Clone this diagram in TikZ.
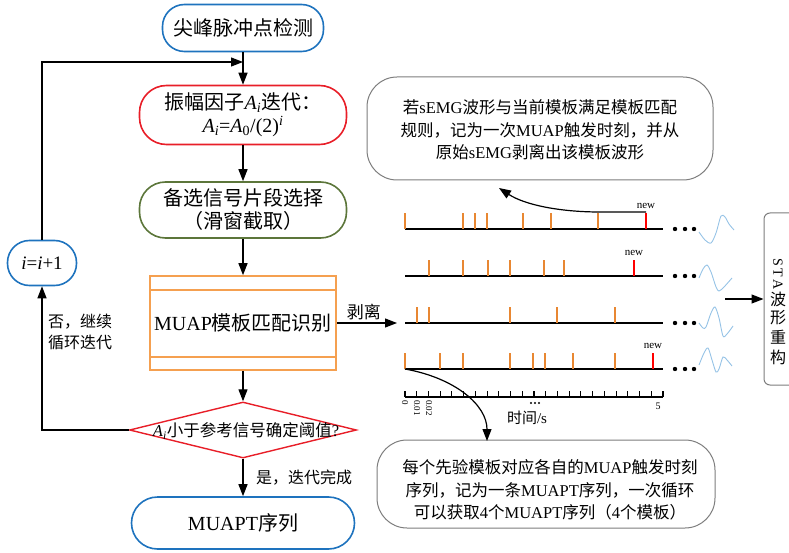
\documentclass[tikz,border=0pt]{standalone}
\usepackage{fontspec}
\setmainfont{Liberation Serif}
\newfontfamily\cjk{Noto Sans CJK SC}
\usetikzlibrary{arrows.meta,shapes.geometric}
\definecolor{cblue}{RGB}{30,115,190}
\definecolor{cred}{RGB}{232,30,40}
\definecolor{cgreen}{RGB}{92,118,58}
\definecolor{corange}{RGB}{245,160,80}
\definecolor{cspike}{RGB}{232,135,50}
\definecolor{cwave}{RGB}{150,195,230}
\definecolor{cgray}{RGB}{125,125,125}
\newcommand\zh[1]{{\cjk #1}}
\newcommand\Ai{\textit{A}\textsubscript{\textit{i}}}
\begin{document}
\begin{tikzpicture}[x=1pt,y=-1pt,
  arr/.style={line width=1.2pt,-{Triangle[length=12pt,width=9pt]}},
  flow/.style={draw, line width=1.6pt, rounded corners=#1, align=center, inner sep=2pt, font=\fontsize{20}{25}\selectfont},
  flow/.default=22pt,
  lbl/.style={font=\fontsize{16}{21}\selectfont, align=left, inner sep=1pt},
  callbox/.style={draw=cgray, line width=1pt, rounded corners=30pt},
  calltext/.style={align=center, font=\fontsize{16.5}{22.5}\selectfont},
  tl/.style={line width=1.8pt},
  spk/.style={cspike, line width=1.4pt},
  rspk/.style={red, line width=1.4pt},
  newlab/.style={font=\fontsize{11}{12}\selectfont, inner sep=0pt},
  ticklab/.style={rotate=-90, anchor=west, font=\fontsize{9}{10}\selectfont, inner sep=0.5pt},
  wave/.style={cwave, line width=0.9pt}
]
\useasboundingbox (0,0) rectangle (789,553);
\clip (0,0) rectangle (789,553);

% ---------- flowchart ----------
\node[flow=22pt, draw=cblue, minimum width=161pt, minimum height=47pt] (top) at (243,28) {\zh{尖峰脉冲点检测}};
\node[flow=27pt, draw=cred, minimum width=207pt, minimum height=59pt] (amp) at (243,115)
  {\zh{振幅因子}\Ai\zh{迭代：}\\[-2pt] \Ai=\textit{A}\textsubscript{0}/(2)\textsuperscript{\textit{i}}};
\node[flow=26pt, draw=cgreen, minimum width=207pt, minimum height=56pt] (sel) at (243,210)
  {\zh{备选信号片段选择}\\[-2pt]\zh{（滑窗截取）}};
\node[draw=corange, line width=1.6pt, minimum width=186pt, minimum height=94pt, font=\fontsize{20}{24}\selectfont] (muap) at (243,323) {MUAP\zh{模板匹配识别}};
\draw[corange, line width=1.6pt] ([yshift=-15pt]muap.north west) -- ([yshift=-15pt]muap.north east);
\draw[corange, line width=1.6pt] ([yshift=14pt]muap.south west) -- ([yshift=14pt]muap.south east);
\node[diamond, draw=cred, line width=1.4pt, minimum width=227pt, minimum height=56pt, inner sep=0pt] (dia) at (243,430) {};
\node[font=\fontsize{16.5}{20}\selectfont, inner sep=0pt] (diat) at (246,431) {\Ai\zh{小于参考信号确定阈值}?};
\node[flow=26pt, draw=cblue, minimum width=223pt, minimum height=52pt] (out) at (243,523) {MUAPT\zh{序列}};
\node[flow=22pt, draw=cblue, minimum width=69pt, minimum height=45pt, font=\fontsize{19}{22}\selectfont] (inc) at (42,263) {\textit{i}=\textit{i}+1};

\draw[arr] (top) -- (amp);
\draw[arr] (amp) -- (sel);
\draw[arr] (sel) -- (muap);
\draw[arr] (muap) -- (dia);
\draw[arr] (dia) -- (out);
\draw[arr] (dia.west) -| (inc.south);
\coordinate (join) at (243,62);
\draw[arr] (inc.north) |- (join);
\coordinate (peelend) at (397,323);
\draw[arr] (muap.east) -- (peelend) node[midway, above, font=\fontsize{17}{20}\selectfont, inner sep=3pt, xshift=-3pt] (peel) {\zh{剥离}};

\node[lbl] (nolab) at (80,332) {\zh{否，继续}\\\zh{循环迭代}};
\node[lbl] (yeslab) at (304,478) {\zh{是，迭代完成}};

% ---------- spike trains ----------
\foreach \y in {229,276,323,369} {
  \draw[tl] (405,\y) -- (663,\y);
  \foreach \x in {675,685,694} \fill (\x,\y) circle (2.2pt);
}
\foreach \x in {405,463,475,487,523,551,598} \draw[spk] (\x,229) -- (\x,213);
\draw[rspk] (646,229) -- (646,213);
\node[newlab] (new1) at (646,206) {new};
\foreach \x in {429,463,488,510,544,564} \draw[spk] (\x,276) -- (\x,260);
\draw[rspk] (634,276) -- (634,260);
\node[newlab] (new2) at (634,253) {new};
\foreach \x in {417,429,510,557,615} \draw[spk] (\x,323) -- (\x,307);
\foreach \x in {405,440,463,510,533,545,573,615} \draw[spk] (\x,369) -- (\x,353);
\draw[rspk] (653,369) -- (653,353);
\node[newlab] (new4) at (653,346) {new};

% axis
\draw[line width=1.3pt] (405,397) -- (663,397);
\foreach \k in {0,...,22} \draw[line width=1.1pt] ({405+\k*11.727},397) -- ({405+\k*11.727},390.5);
\node[ticklab] at (405,399.5) {0};
\node[ticklab] at (417,399.5) {0.01};
\node[ticklab] at (429,399.5) {0.02};
\node[font=\fontsize{10}{11}\selectfont, inner sep=0pt] at (658,406) {5};
\foreach \x in {531,535,539} \fill (\x,403) circle (1.2pt);
\node[font=\fontsize{15}{18}\selectfont, inner sep=0pt] (tlab) at (527,418) {\zh{时间}/s};

% callouts
\node[callbox, minimum width=346pt, minimum height=103pt] (call1) at (540,128.5) {};
\node[calltext] (call1t) at (540,130) {\zh{若}sEMG\zh{波形与当前模板满足模板匹配}\\\zh{规则，记为一次}MUAP\zh{触发时刻，并从}\\\zh{原始}sEMG\zh{剥离出该模板波形}};
\node[callbox, minimum width=338pt, minimum height=88pt] (call2) at (546,484) {};
\node[calltext] (call2t) at (550,490) {\zh{每个先验模板对应各自的}MUAP\zh{触发时刻}\\\zh{序列，记为一条}MUAPT\zh{序列，一次循环}\\\zh{可以获取}4\zh{个}MUAPT\zh{序列（}4\zh{个模板）}};

\coordinate (c1s) at (646,212);
\coordinate (c1m) at (600,212);
\coordinate (c1e) at (499,188);
\draw[arr] (c1s) -- (c1m) .. controls (560,212) and (525,205) .. (c1e);
\coordinate (c2s) at (405,369);
\coordinate (c2e) at (487,441);
\draw[arr] (c2s) .. controls (455,378) and (487,405) .. (c2e);

% waves
\draw[wave] plot[smooth] coordinates {(699,232) (705,240) (711,243) (716,233) (721,216) (725,217) (729,224) (734,230)};
\draw[wave] plot[smooth] coordinates {(699,278) (703,269) (707,265) (711,272) (716,287) (719,291) (724,287) (732,278)};
\draw[wave] plot[smooth] coordinates {(699,323) (703,328) (706,327) (711,313) (715,307) (719,318) (723,336) (727,334) (733,326)};
\draw[wave] plot[smooth] coordinates {(699,365) (704,353) (708,348) (712,360) (716,372) (719,369) (723,357) (727,360) (732,366)};

% STA box
\node[draw=cgray, line width=1pt, rounded corners=6pt, minimum width=40pt, minimum height=172pt] (sta) at (784,299) {};
\coordinate (wavesout) at (725,299);
\draw[arr] (wavesout) -- (sta.west |- wavesout);
\node[rotate=-90, font=\fontsize{14}{16}\selectfont, inner sep=0pt] (staS) at (778,274) {S\hspace{2pt}T\hspace{2pt}A};
\node[font=\fontsize{16}{18}\selectfont, inner sep=0pt] (sta1) at (778,299) {\zh{波}};
\node[font=\fontsize{16}{18}\selectfont, inner sep=0pt] (sta2) at (778,318) {\zh{形}};
\node[font=\fontsize{16}{18}\selectfont, inner sep=0pt] (sta3) at (778,337) {\zh{重}};
\node[font=\fontsize{16}{18}\selectfont, inner sep=0pt] (sta4) at (778,357) {\zh{构}};
\end{tikzpicture}
\end{document}
